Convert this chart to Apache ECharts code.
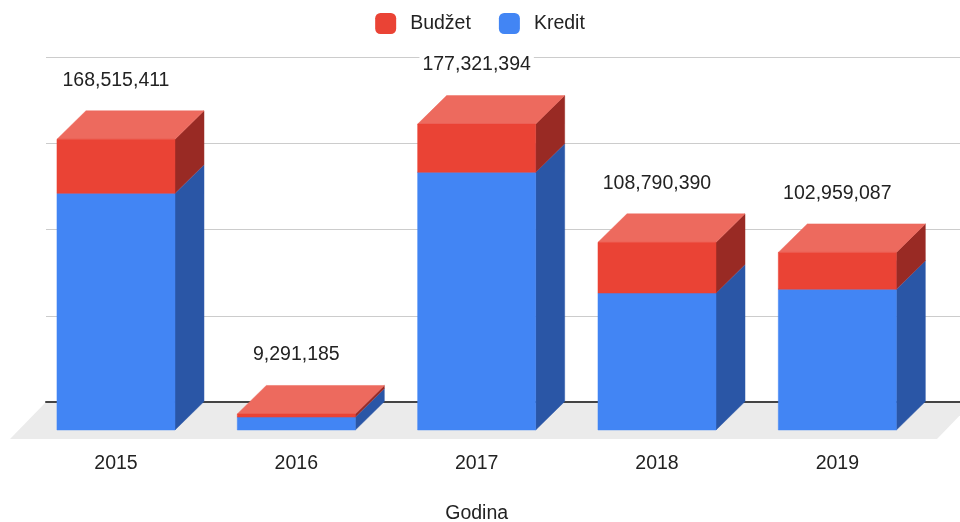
<!DOCTYPE html>
<html>
<head>
<meta charset="utf-8">
<script src="https://cdn.jsdelivr.net/npm/echarts@6/dist/echarts.min.js"></script>
<style>
html,body{margin:0;padding:0;background:#fff;}
#chart{width:960px;height:522px;}
</style>
</head>
<body>
<div id="chart"></div>
<script>
// ---- data ----
const categories = ['2015', '2016', '2017', '2018', '2019'];
const kredit = [137200000, 7500000, 149400000, 79400000, 81600000];
const budzet = [31315411, 1791185, 27921394, 29390390, 21359087];
const gridTicks = [0, 50000000, 100000000, 150000000, 200000000];

// ---- style ----
const FONT = "'Liberation Sans', Arial, sans-serif";
const DX = 29, DY = 28.5;
const colors = {
  kredit: { front: '#4285F4', side: '#2A56A6', top: '#6FA3F7' },
  budzet: { front: '#EA4335', side: '#992A24', top: '#ED6A5E' }
};

const kreditData = categories.map((c, i) => [i, 0, kredit[i]]);
const budzetData = categories.map((c, i) => [i, kredit[i], kredit[i] + budzet[i]]);

function makeRender(col, withLabel) {
  return function (params, api) {
    const idx = api.value(0);
    const lo = api.value(1), hi = api.value(2);
    const pLo = api.coord([idx, lo]);
    const pHi = api.coord([idx, hi]);
    const bw = api.size([1, 0])[0] * 0.6544;
    const x0 = pLo[0] - bw / 2, x1 = x0 + bw;
    const yb = pLo[1], yt = pHi[1];
    const children = [
      { type: 'polygon', shape: { points: [[x1, yb], [x1 + DX, yb - DY], [x1 + DX, yt - DY], [x1, yt]] },
        style: { fill: col.side, stroke: col.side, lineWidth: 0.5 } },
      { type: 'polygon', shape: { points: [[x0, yt], [x1, yt], [x1 + DX, yt - DY], [x0 + DX, yt - DY]] },
        style: { fill: col.top, stroke: col.top, lineWidth: 0.5 } },
      { type: 'rect', shape: { x: x0, y: yt, width: bw, height: yb - yt },
        style: { fill: col.front, stroke: col.front, lineWidth: 0.5 } }
    ];
    if (withLabel) {
      const total = kredit[idx] + budzet[idx];
      children.push({
        type: 'text',
        style: {
          text: total.toLocaleString('en-US'),
          x: pLo[0], y: yt - 59,
          align: 'center', verticalAlign: 'middle',
          fontSize: 19.5, fontFamily: FONT, fill: '#222',
          backgroundColor: '#fff', padding: [0, 3]
        }
      });
    }
    return { type: 'group', children: children };
  };
}

const chart = echarts.init(document.getElementById('chart'), null, { renderer: 'canvas' });
chart.setOption({
  animation: false,
  backgroundColor: '#fff',
  textStyle: { fontFamily: FONT },
  legend: {
    data: ['Budžet', 'Kredit'],
    top: 8,
    left: 'center',
    icon: 'roundRect',
    itemWidth: 21,
    itemHeight: 21,
    itemGap: 28,
    textStyle: { fontSize: 19.5, color: '#222', fontFamily: FONT, padding: [0, 0, 0, 9] }
  },
  grid: [
    { left: 25.8, right: 32.5, top: 85, bottom: 92, outerBoundsMode: 'none', containLabel: false },
    { left: 46, right: 0, top: 57, bottom: 120, outerBoundsMode: 'none', containLabel: false }
  ],
  xAxis: [
    {
      gridIndex: 0, type: 'category', data: categories,
      axisLine: { show: false }, axisTick: { show: false },
      axisLabel: { fontSize: 19.5, color: '#222', fontFamily: FONT, margin: 24, lineHeight: 20 },
      name: 'Godina', nameLocation: 'middle', nameGap: 74,
      nameTextStyle: { fontSize: 19.5, color: '#222', fontFamily: FONT, lineHeight: 20 }
    },
    {
      gridIndex: 1, type: 'value', min: 0, max: 1, z: 2,
      axisLine: { show: true, lineStyle: { color: '#444', width: 2 } },
      axisTick: { show: false }, axisLabel: { show: false }, splitLine: { show: false }
    }
  ],
  yAxis: [
    { gridIndex: 0, type: 'value', min: 0, max: 200000000, interval: 50000000,
      show: false, splitLine: { show: false } },
    { gridIndex: 1, type: 'value', min: gridTicks[0], max: gridTicks[gridTicks.length - 1],
      interval: gridTicks[1] - gridTicks[0], z: 1,
      axisLine: { show: false }, axisTick: { show: false }, axisLabel: { show: false },
      splitLine: { show: true, lineStyle: { color: '#cccccc', width: 1 } } }
  ],
  graphic: [
    { type: 'polygon', z: 0,
      shape: { points: [[10, 439], [46, 402], [973, 402], [937, 439]] },
      style: { fill: '#ebebeb' } }
  ],
  series: [
    { name: 'Kredit', type: 'custom', xAxisIndex: 0, yAxisIndex: 0, z: 10, clip: false,
      itemStyle: { color: colors.kredit.front },
      encode: { x: 0, y: [1, 2] },
      renderItem: makeRender(colors.kredit, false), data: kreditData },
    { name: 'Budžet', type: 'custom', xAxisIndex: 0, yAxisIndex: 0, z: 11, clip: false,
      itemStyle: { color: colors.budzet.front },
      encode: { x: 0, y: [1, 2] },
      renderItem: makeRender(colors.budzet, true), data: budzetData }
  ]
});
</script>
</body>
</html>
